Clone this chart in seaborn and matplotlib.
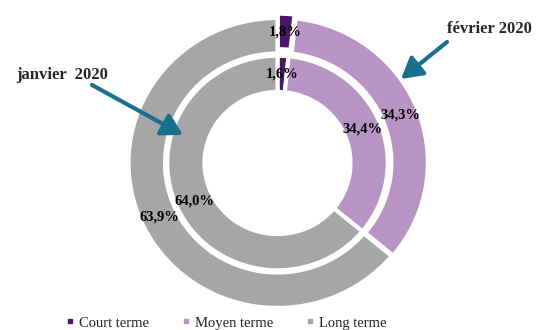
import matplotlib
matplotlib.use("Agg")
import matplotlib.pyplot as plt
from matplotlib.lines import Line2D
import seaborn as sns

# Debt maturity structure, share of total (%)
categories = ["Court terme", "Moyen terme", "Long terme"]
fev_2020 = [1.8, 34.3, 63.9]
jan_2020 = [1.6, 34.4, 64.0]
ring_titles = ["février 2020", "janvier  2020"]

sns.set_theme(style="white")
plt.rcParams["font.family"] = ["Liberation Serif", "DejaVu Serif"]
palette = sns.color_palette(["#4B1769", "#B794C4", "#A6A6A6"])
arrow_color = "#1B6F8E"


def fmt(p):
    return f"{p:.1f}%".replace(".", ",")


fig = plt.figure(figsize=(5.37, 3.30), dpi=100)
ax = fig.add_axes([0, 0, 1, 1])

wedge_style = dict(edgecolor="white", linewidth=3)
label_style = dict(fontsize=10.5, fontweight="bold", color="black")

# Outer ring: February 2020
ax.pie(fev_2020, colors=palette, startangle=90, counterclock=False,
       radius=1.0, explode=[0.03, 0.01, 0.0],
       wedgeprops=dict(width=0.245, **wedge_style),
       autopct=fmt, pctdistance=0.875, textprops=label_style)

# Inner ring: January 2020
ax.pie(jan_2020, colors=palette, startangle=90, counterclock=False,
       radius=0.74, explode=[0.0, 0.0, 0.0],
       wedgeprops=dict(width=0.25, **wedge_style),
       autopct=fmt, pctdistance=0.83, textprops=label_style)

ax.set_aspect("auto")
ax.set_xlim(-277.5 / 149, (537 - 277.5) / 149)
ax.set_ylim(-167 / 145, (330 - 167) / 145)
ax.axis("off")

# Ring captions with pointing arrows (figure pixel coordinates)
fig.text(489 / 537, 1 - 29 / 330, ring_titles[0], ha="center", va="center",
         fontsize=12, fontweight="bold")
fig.text(62 / 537, 1 - 75 / 330, ring_titles[1], ha="center", va="center",
         fontsize=12, fontweight="bold")

arrow_props = dict(arrowstyle="-|>,head_length=0.7,head_width=0.4",
                   color=arrow_color, lw=3, mutation_scale=18,
                   shrinkA=0, shrinkB=0)
ax.annotate("", xy=(401, 330 - 79), xytext=(447, 330 - 42),
            xycoords="figure pixels", textcoords="figure pixels",
            arrowprops=arrow_props)
ax.annotate("", xy=(183, 330 - 135), xytext=(92, 330 - 85),
            xycoords="figure pixels", textcoords="figure pixels",
            arrowprops=arrow_props)

handles = [Line2D([], [], marker="s", linestyle="", color=c, markersize=3)
           for c in palette]
fig.legend(handles, categories, loc="center", ncol=3, frameon=False,
           bbox_to_anchor=(226 / 537, 1 - 323 / 330),
           prop=dict(size=10.5), handlelength=0.6, handletextpad=0.35,
           columnspacing=2.2, labelcolor="#222222")

fig.savefig("out.png", dpi=100)
